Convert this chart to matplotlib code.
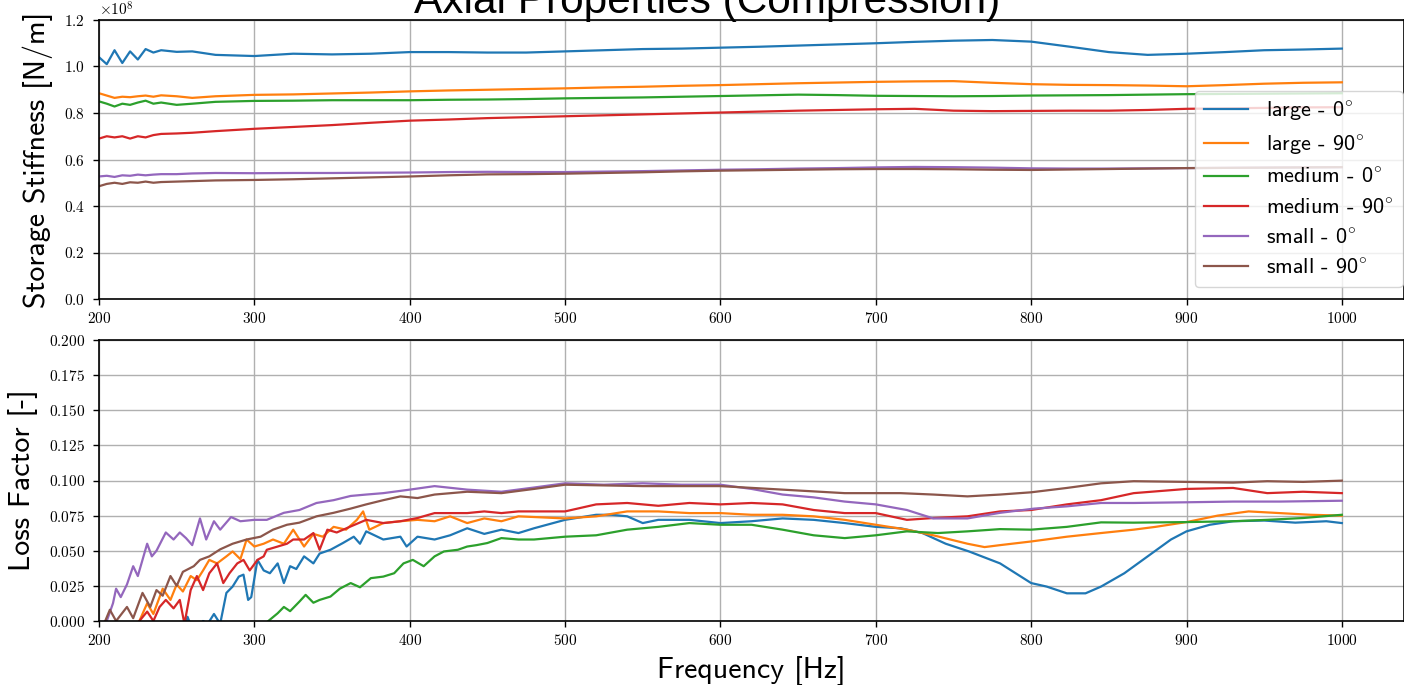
import matplotlib
matplotlib.use("Agg")
import matplotlib.pyplot as plt
import numpy as np

# ---------------- data ----------------
labels = [r"large - 0$^{\circ}$", r"large - 90$^{\circ}$", r"medium - 0$^{\circ}$",
          r"medium - 90$^{\circ}$", r"small - 0$^{\circ}$", r"small - 90$^{\circ}$"]
colors = ["#1f77b4", "#ff7f0e", "#2ca02c", "#d62728", "#9467bd", "#8c564b"]

STIFF_UNIT = 1e8  # stiffness values below are given in 1e8 N/m
freq_stiff = [200, 205, 210, 215, 220, 225, 230, 235, 240, 250, 260, 275,
              300, 325, 350, 375, 400, 425, 450, 475, 500, 525, 550, 575, 600,
              625, 650, 675, 700, 725, 750, 775, 800, 825, 850, 875, 900, 925,
              950, 975, 1000]
stiff_large_0 = [1.04, 1.01, 1.07, 1.015, 1.065, 1.03, 1.075, 1.06, 1.07, 1.063, 1.065, 1.05,
                 1.045, 1.055, 1.052, 1.055, 1.062, 1.062, 1.06, 1.06, 1.065, 1.07, 1.075, 1.077, 1.081,
                 1.085, 1.09, 1.095, 1.10, 1.106, 1.111, 1.114, 1.107, 1.085, 1.062, 1.05, 1.055, 1.062,
                 1.07, 1.073, 1.077]
stiff_large_90 = [0.885, 0.875, 0.865, 0.87, 0.868, 0.872, 0.875, 0.87, 0.876, 0.872, 0.865, 0.872,
                  0.878, 0.88, 0.884, 0.888, 0.893, 0.897, 0.90, 0.903, 0.906, 0.91, 0.913, 0.917, 0.92,
                  0.924, 0.928, 0.931, 0.934, 0.936, 0.937, 0.93, 0.924, 0.921, 0.92, 0.918, 0.915, 0.92,
                  0.926, 0.93, 0.932]
stiff_medium_0 = [0.85, 0.84, 0.828, 0.84, 0.835, 0.845, 0.853, 0.84, 0.845, 0.835, 0.84, 0.848,
                  0.852, 0.853, 0.855, 0.855, 0.855, 0.857, 0.858, 0.86, 0.863, 0.865, 0.867, 0.87, 0.873,
                  0.876, 0.879, 0.877, 0.874, 0.873, 0.872, 0.873, 0.875, 0.876, 0.877, 0.879, 0.881, 0.882,
                  0.883, 0.884, 0.885]
stiff_medium_90 = [0.69, 0.70, 0.695, 0.70, 0.69, 0.70, 0.695, 0.705, 0.71, 0.712, 0.715, 0.722,
                   0.732, 0.74, 0.748, 0.758, 0.767, 0.772, 0.778, 0.782, 0.786, 0.79, 0.794, 0.798, 0.802,
                   0.806, 0.81, 0.813, 0.816, 0.818, 0.81, 0.808, 0.809, 0.81, 0.81, 0.813, 0.818, 0.82,
                   0.822, 0.824, 0.825]
stiff_small_0 = [0.527, 0.53, 0.525, 0.532, 0.53, 0.535, 0.532, 0.535, 0.537, 0.537, 0.54, 0.542,
                 0.541, 0.542, 0.542, 0.543, 0.544, 0.546, 0.547, 0.546, 0.546, 0.548, 0.55, 0.553, 0.556,
                 0.558, 0.561, 0.563, 0.566, 0.568, 0.567, 0.565, 0.562, 0.561, 0.561, 0.562, 0.563, 0.564,
                 0.565, 0.566, 0.567]
stiff_small_90 = [0.485, 0.495, 0.50, 0.495, 0.502, 0.50, 0.505, 0.50, 0.503, 0.505, 0.507, 0.51,
                  0.512, 0.515, 0.519, 0.523, 0.527, 0.532, 0.536, 0.537, 0.539, 0.542, 0.545, 0.549, 0.552,
                  0.554, 0.556, 0.558, 0.559, 0.559, 0.558, 0.556, 0.555, 0.557, 0.559, 0.561, 0.563, 0.564,
                  0.565, 0.566, 0.567]

# loss factor: each series has its own frequency samples
f_loss_large_0 = [255, 257, 259, 262, 267, 270, 274, 278, 282, 286, 290, 293, 296, 298, 302, 306, 310,
                  315, 319, 323, 327, 332, 338, 342, 349, 357, 364, 368, 372, 383, 394, 398, 405, 416,
                  426, 437, 448, 459, 470, 480, 500, 520, 530, 540, 550, 560, 580, 600, 620, 640, 660,
                  680, 700, 716, 730, 745, 760, 780, 800, 810, 823, 835, 845, 860, 875, 890, 900, 915,
                  930, 950, 970, 990, 1000]
loss_large_0 = [-0.005, 0.003, -0.003, -0.01, 0.0, -0.002, 0.005, -0.002, 0.02, 0.0245, 0.0316, 0.033,
                0.015, 0.017, 0.0435, 0.036, 0.034, 0.041, 0.027, 0.039, 0.037, 0.046, 0.041, 0.048,
                0.0507, 0.0555, 0.060, 0.055, 0.0638, 0.058, 0.060, 0.053, 0.060, 0.058, 0.061, 0.066,
                0.062, 0.065, 0.0626, 0.066, 0.072, 0.0756, 0.0756, 0.0745, 0.0697, 0.072, 0.072, 0.0697,
                0.071, 0.073, 0.072, 0.0697, 0.067, 0.066, 0.0626, 0.055, 0.0495, 0.041, 0.027, 0.0245,
                0.0197, 0.0197, 0.0245, 0.034, 0.046, 0.058, 0.0638, 0.0685, 0.071, 0.0715, 0.070, 0.071,
                0.0697]
f_loss_large_90 = [222, 226, 231, 235, 241, 246, 250, 254, 259, 263, 267, 271, 276, 282, 286, 291, 295,
                   300, 306, 312, 319, 325, 332, 338, 344, 351, 359, 366, 370, 374, 383, 394, 405, 416,
                   426, 437, 448, 459, 470, 500, 520, 540, 560, 580, 600, 620, 640, 660, 680, 700, 720,
                   737, 759, 770, 780, 800, 823, 845, 866, 880, 900, 920, 940, 960, 980, 1000]
loss_large_90 = [-0.005, 0.0, 0.0126, 0.005, 0.023, 0.015, 0.026, 0.021, 0.032, 0.029, 0.036, 0.0435,
                 0.041, 0.046, 0.0495, 0.044, 0.058, 0.053, 0.055, 0.058, 0.055, 0.065, 0.053, 0.062,
                 0.06, 0.067, 0.065, 0.072, 0.078, 0.065, 0.0697, 0.071, 0.072, 0.071, 0.0745, 0.0697,
                 0.073, 0.071, 0.0745, 0.073, 0.0745, 0.078, 0.078, 0.0768, 0.0768, 0.0756, 0.0756,
                 0.0745, 0.072, 0.0685, 0.065, 0.061, 0.055, 0.0526, 0.054, 0.0566, 0.06, 0.0626, 0.065,
                 0.067, 0.0704, 0.075, 0.078, 0.0768, 0.0756, 0.075]
f_loss_medium_0 = [305, 309, 315, 319, 323, 329, 333, 338, 342, 349, 355, 362, 368, 375, 383, 390, 396,
                   402, 409, 416, 422, 431, 437, 443, 450, 459, 470, 480, 500, 520, 540, 560, 580, 600,
                   620, 640, 660, 680, 700, 720, 740, 759, 780, 800, 823, 845, 866, 900, 930, 952, 975,
                   1000]
loss_medium_0 = [-0.005, 0.0, 0.0055, 0.01, 0.007, 0.0138, 0.0186, 0.013, 0.015, 0.0174, 0.023, 0.027,
                 0.024, 0.0305, 0.0316, 0.034, 0.041, 0.0435, 0.039, 0.046, 0.0495, 0.0507, 0.053, 0.054,
                 0.0555, 0.059, 0.058, 0.058, 0.060, 0.061, 0.065, 0.067, 0.0697, 0.0685, 0.0685, 0.065,
                 0.061, 0.059, 0.061, 0.0638, 0.0626, 0.0638, 0.0654, 0.065, 0.067, 0.0702, 0.070, 0.0704,
                 0.071, 0.072, 0.0733, 0.0756]
f_loss_medium_90 = [222, 226, 231, 235, 239, 243, 248, 252, 255, 259, 263, 267, 271, 276, 280, 284, 289,
                    293, 297, 302, 306, 308, 315, 321, 325, 332, 338, 342, 347, 353, 362, 372, 383, 394,
                    405, 416, 437, 448, 459, 470, 500, 520, 540, 560, 580, 600, 620, 640, 660, 680, 700,
                    720, 737, 759, 780, 800, 823, 845, 866, 900, 930, 952, 975, 1000]
loss_medium_90 = [-0.005, 0.0, 0.0067, 0.0, 0.01, 0.015, 0.009, 0.015, -0.002, 0.022, 0.032, 0.022,
                  0.034, 0.041, 0.027, 0.034, 0.041, 0.0435, 0.036, 0.0435, 0.046, 0.0507, 0.053, 0.055,
                  0.058, 0.058, 0.0626, 0.0507, 0.065, 0.063, 0.0673, 0.072, 0.0697, 0.071, 0.0733,
                  0.0768, 0.0768, 0.078, 0.0768, 0.078, 0.078, 0.083, 0.084, 0.082, 0.084, 0.083, 0.084,
                  0.083, 0.079, 0.0768, 0.0768, 0.072, 0.0733, 0.0745, 0.078, 0.079, 0.083, 0.086, 0.091,
                  0.094, 0.0947, 0.091, 0.092, 0.091]
f_loss_small_0 = [200, 205, 209, 211, 214, 218, 222, 225, 231, 234, 237, 243, 248, 252, 256, 260, 265,
                  269, 274, 278, 285, 291, 300, 308, 319, 329, 340, 351, 362, 372, 383, 400, 416, 437,
                  459, 480, 500, 525, 550, 575, 600, 620, 640, 660, 680, 700, 720, 737, 759, 780, 802,
                  823, 845, 866, 900, 930, 960, 1000]
loss_small_0 = [-0.01, 0.0, 0.0126, 0.023, 0.017, 0.026, 0.039, 0.032, 0.055, 0.046, 0.050, 0.063,
                0.058, 0.063, 0.059, 0.054, 0.073, 0.058, 0.071, 0.065, 0.074, 0.071, 0.072, 0.072,
                0.077, 0.079, 0.084, 0.086, 0.089, 0.090, 0.091, 0.0935, 0.096, 0.0935, 0.092, 0.095,
                0.098, 0.097, 0.098, 0.097, 0.097, 0.094, 0.090, 0.088, 0.085, 0.083, 0.079, 0.073,
                0.073, 0.077, 0.080, 0.0816, 0.084, 0.084, 0.0845, 0.085, 0.085, 0.0856]
f_loss_small_90 = [200, 204, 207, 211, 218, 222, 228, 233, 237, 241, 246, 250, 254, 261, 265, 271, 278,
                   286, 295, 304, 312, 321, 329, 340, 351, 362, 372, 383, 394, 405, 416, 437, 459, 480,
                   500, 550, 600, 640, 680, 716, 737, 759, 780, 800, 823, 845, 866, 900, 930, 952, 975,
                   1000]
loss_small_90 = [-0.005, 0.0, 0.008, 0.0, 0.01, 0.002, 0.02, 0.01, 0.022, 0.018, 0.032, 0.025, 0.035,
                 0.039, 0.0435, 0.046, 0.051, 0.055, 0.058, 0.06, 0.065, 0.0685, 0.07, 0.0745, 0.077,
                 0.080, 0.083, 0.086, 0.0887, 0.0875, 0.090, 0.092, 0.091, 0.094, 0.097, 0.096, 0.096,
                 0.0935, 0.091, 0.091, 0.090, 0.0887, 0.090, 0.0916, 0.0947, 0.098, 0.0995, 0.099,
                 0.0985, 0.0995, 0.099, 0.0999]

xticks = [200, 300, 400, 500, 600, 700, 800, 900, 1000]

# ---------------- style ----------------
plt.rcParams["font.family"] = "cmr10"
plt.rcParams["mathtext.fontset"] = "cm"
plt.rcParams["axes.formatter.use_mathtext"] = True
plt.rcParams["axes.unicode_minus"] = False

fig = plt.figure(figsize=(14.04, 6.85), dpi=100)
W, H = 1404.0, 685.0
ax1 = fig.add_axes([99 / W, 1 - 299 / H, (1404 - 99) / W, (299 - 20) / H])
ax2 = fig.add_axes([99 / W, 1 - 621 / H, (1404 - 99) / W, (621 - 340) / H])

stiff = [stiff_large_0, stiff_large_90, stiff_medium_0, stiff_medium_90, stiff_small_0, stiff_small_90]
loss_f = [f_loss_large_0, f_loss_large_90, f_loss_medium_0, f_loss_medium_90, f_loss_small_0, f_loss_small_90]
loss_v = [loss_large_0, loss_large_90, loss_medium_0, loss_medium_90, loss_small_0, loss_small_90]

for s, c, lab in zip(stiff, colors, labels):
    ax1.plot(freq_stiff, np.asarray(s) * STIFF_UNIT, color=c, lw=1.6, label=lab)
for fr, v, c in zip(loss_f, loss_v, colors):
    ax2.plot(fr, v, color=c, lw=1.6)

label_font = dict(family="cmss10", fontsize=21.5)
tick_font = 11

for ax in (ax1, ax2):
    ax.set_xlim(200, 1040)
    ax.set_xticks(xticks)
    ax.grid(True, color="#b0b0b0", lw=1.0)
    ax.set_axisbelow(True)
    ax.tick_params(axis="both", labelsize=tick_font, length=4.5, width=1.0)
    ax.tick_params(axis="y", pad=5.5)
    ax.tick_params(axis="x", pad=4)
    for sp in ax.spines.values():
        sp.set_linewidth(1.2)

ax1.set_ylim(0, 1.2e8)
ax1.set_yticks(np.arange(0, 1.21e8, 0.2e8))
ax1.yaxis.get_offset_text().set_fontsize(tick_font)
ax2.set_ylim(0, 0.2)
ax2.set_yticks(np.arange(0, 0.2001, 0.025))

ax1.set_ylabel("Storage Stiffness [N/m]", labelpad=8, **label_font)
ax2.set_ylabel("Loss Factor [-]", labelpad=8, **label_font)
ax2.set_xlabel("Frequency [Hz]", labelpad=6, **label_font)

leg = ax1.legend(loc="lower right", bbox_to_anchor=(0.999, 0.043), borderaxespad=0,
                 prop={"family": "cmss10", "size": 16}, labelspacing=0.48,
                 handlelength=2.0, handletextpad=0.8)

fig.text(707 / W, 1 - 13 / H, "Axial Properties (Compression)", ha="center", va="baseline",
         fontsize=30.5, family="Liberation Sans")

fig.savefig("out.png", dpi=100)
